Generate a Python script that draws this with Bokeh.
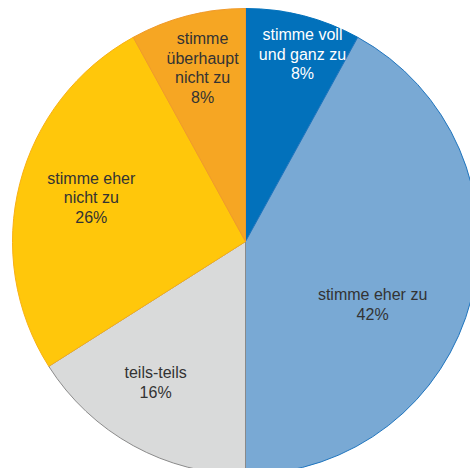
import math
from bokeh.plotting import figure
from bokeh.models import ColumnDataSource
from bokeh.core.properties import value
from bokeh.embed import file_html
from bokeh.resources import INLINE

# ---- data ----
categories = [
    "stimme voll\nund ganz zu",
    "stimme eher zu",
    "teils-teils",
    "stimme eher\nnicht zu",
    "stimme\nüberhaupt\nnicht zu",
]
percent = [8, 42, 16, 26, 8]

# ---- styles ----
fill_colors = ["#0271BB", "#79A9D4", "#D9DADA", "#FFC70B", "#F6A623"]
line_colors = ["#0271BB", "#1F74BD", "#8A8A8A", "#F8B014", "#F09A2A"]
text_colors = ["#FFFFFF", "#333333", "#333333", "#333333", "#333333"]
label_rfrac = [0.841, 0.609, 0.718, 0.688, 0.767]
label_nudge_deg = [-2.5, -12.0, -3.7, -1.5, -0.5]

W, H = 470, 468
cx, cy, R = 245, H - 241, 233

total = sum(percent)
starts, ends, mids = [], [], []
a = math.pi / 2
for v in percent:
    sweep = 2 * math.pi * v / total
    starts.append(a)
    ends.append(a - sweep)
    mids.append(a - sweep / 2)
    a -= sweep

p = figure(width=W, height=H, x_range=(0, W), y_range=(0, H),
           toolbar_location=None, output_backend="svg", min_border=0,
           outline_line_color=None, background_fill_color="white",
           border_fill_color="white")
p.axis.visible = False
p.grid.visible = False

src = ColumnDataSource(dict(
    x=[cx] * len(percent), y=[cy] * len(percent),
    start=starts, end=ends, fill=fill_colors, line=line_colors,
))
p.wedge(x="x", y="y", radius=R, start_angle="start", end_angle="end",
        direction="clock", fill_color="fill", line_color="line",
        line_width=1, source=src)

lh = 19.5
lx, ly, lt, lc = [], [], [], []
for cat, v, m, rf, nd, col in zip(categories, percent, mids, label_rfrac,
                                  label_nudge_deg, text_colors):
    ang = m + math.radians(nd)
    bx = cx + rf * R * math.cos(ang)
    by = cy + rf * R * math.sin(ang)
    lines = cat.split("\n") + [f"{v}%"]
    n = len(lines)
    for i, t in enumerate(lines):
        lx.append(bx)
        ly.append(by - (i - (n - 1) / 2) * lh)
        lt.append(t)
        lc.append(col)

p.text(x=lx, y=ly, text=lt, text_color=lc, text_font=value("Liberation Sans"),
       text_font_size="16px", text_align="center", text_baseline="middle")

open("out.html", "w").write(file_html(p, INLINE))
